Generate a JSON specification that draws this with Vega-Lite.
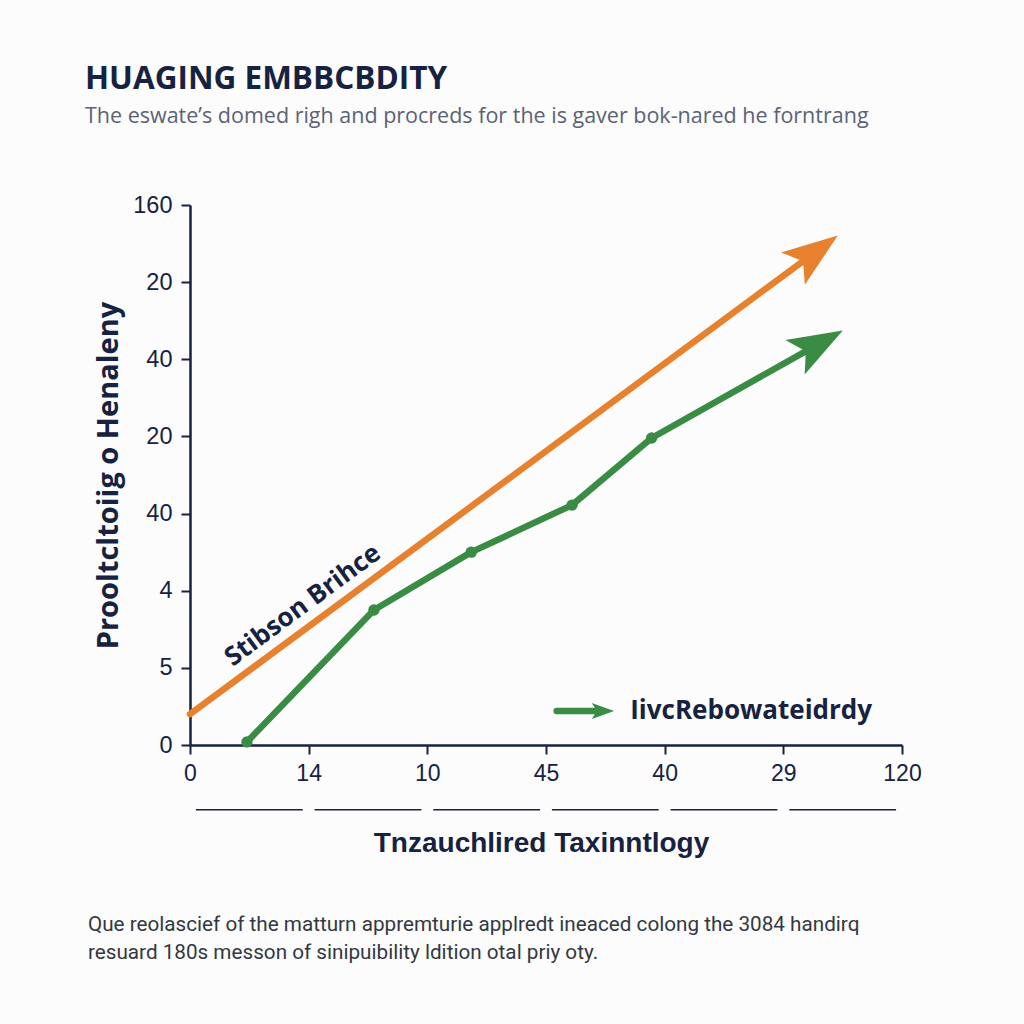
{
  "$schema": "https://vega.github.io/schema/vega-lite/v6.json",
  "width": 712,
  "height": 540,
  "autosize": {"type": "none"},
  "padding": {"left": 190, "top": 205, "right": 122, "bottom": 279},
  "background": "#fcfcfd",
  "title": {
    "text": "HUAGING EMBBCBDITY",
    "subtitle": "The eswate’s domed righ and procreds for the is gaver bok-nared he forntrang",
    "anchor": "start",
    "frame": "group",
    "dx": -105,
    "offset": 66,
    "font": "Open Sans",
    "fontSize": 31.5,
    "fontWeight": "bold",
    "color": "#16223f",
    "subtitleFont": "Open Sans",
    "subtitleFontSize": 21.5,
    "subtitleColor": "#5b6275",
    "subtitlePadding": 10
  },
  "config": {"view": {"stroke": null}},
  "datasets": {
    "series": [
      {"s": "orange", "x": 0, "y": 0.40},
      {"s": "orange", "x": 5.27, "y": 6.39},
      {"s": "green", "x": 0.48, "y": 0.04},
      {"s": "green", "x": 1.55, "y": 1.75},
      {"s": "green", "x": 2.37, "y": 2.50},
      {"s": "green", "x": 3.22, "y": 3.11},
      {"s": "green", "x": 3.89, "y": 3.98},
      {"s": "green", "x": 5.30, "y": 5.20},
      {"s": "legend", "x": 3.09, "y": 0.44},
      {"s": "legend", "x": 3.46, "y": 0.44}
    ],
    "markers": [
      {"x": 0.48, "y": 0.04},
      {"x": 1.55, "y": 1.75},
      {"x": 2.37, "y": 2.50},
      {"x": 3.22, "y": 3.11},
      {"x": 3.89, "y": 3.98}
    ],
    "heads": [
      {"s": "orange", "x": 5.27, "y": 6.39, "a": -36.4, "sz": 3100},
      {"s": "green", "x": 5.30, "y": 5.20, "a": -29.3, "sz": 3000},
      {"s": "legend", "x": 3.48, "y": 0.44, "a": 0, "sz": 500}
    ],
    "brackets": [
      {"x1": 0.05, "x2": 0.95},
      {"x1": 1.05, "x2": 1.95},
      {"x1": 2.05, "x2": 2.95},
      {"x1": 3.05, "x2": 3.95},
      {"x1": 4.05, "x2": 4.95},
      {"x1": 5.05, "x2": 5.95}
    ],
    "note1": [{"t": "Stibson Brihce", "x": 0.95, "y": 1.81}],
    "note2": [{"t": "IivcRebowateidrdy", "x": 3.71, "y": 0.44}],
    "footer": [
      {"t": "Que reolascief of the matturn appremturie applredt ineaced colong the 3084 handirq", "x": -0.86, "y": -2.33},
      {"t": "resuard 180s messon of sinipuibility ldition otal priy oty.", "x": -0.86, "y": -2.69}
    ]
  },
  "layer": [
    {
      "data": {"name": "brackets"},
      "mark": {"type": "rule", "color": "#16223f", "strokeWidth": 1.5},
      "encoding": {
        "x": {"field": "x1", "type": "quantitative", "scale": {"domain": [0, 6]}},
        "x2": {"field": "x2"},
        "y": {"datum": -0.84, "type": "quantitative", "scale": {"domain": [0, 7]}}
      }
    },
    {
      "data": {"name": "series"},
      "mark": {"type": "line", "strokeWidth": 6.5, "strokeCap": "round", "strokeJoin": "round"},
      "encoding": {
        "x": {
          "field": "x", "type": "quantitative",
          "scale": {"domain": [0, 6], "nice": false},
          "axis": {
            "values": [0, 1, 2, 3, 4, 5, 6],
            "labelExpr": "['0','14','10','45','40','29','120'][datum.value]",
            "grid": false,
            "domainColor": "#16223f", "domainWidth": 2.5,
            "tickColor": "#16223f", "tickWidth": 2, "tickSize": 9,
            "labelColor": "#16223f", "labelFont": "Liberation Sans", "labelFontSize": 23,
            "labelPadding": 8, "labelFlush": false,
            "title": "Tnzauchlired Taxinntlogy",
            "titleFont": "Liberation Sans", "titleFontSize": 28, "titleFontWeight": "bold",
            "titleColor": "#16223f", "titleBaseline": "alphabetic", "titleY": 106, "titleX": 351
          }
        },
        "y": {
          "field": "y", "type": "quantitative",
          "scale": {"domain": [0, 7], "nice": false},
          "axis": {
            "values": [0, 1, 2, 3, 4, 5, 6, 7],
            "labelExpr": "['0','5','4','40','20','40','20','160'][datum.value]",
            "grid": false,
            "domainColor": "#16223f", "domainWidth": 2.5,
            "tickColor": "#16223f", "tickWidth": 2, "tickSize": 9,
            "labelColor": "#16223f", "labelFont": "Liberation Sans", "labelFontSize": 23.5,
            "labelPadding": 9,
            "title": "Prooltcltoiig o Henaleny",
            "titleFont": "Open Sans", "titleFontSize": 29, "titleFontWeight": "bold",
            "titleColor": "#16223f", "titleBaseline": "middle", "titleX": -82, "titleY": 270
          }
        },
        "color": {
          "field": "s", "type": "nominal", "legend": null,
          "scale": {"domain": ["orange", "green", "legend"], "range": ["#e8812e", "#3a8c44", "#3a8c44"]}
        },
        "detail": {"field": "s"}
      }
    },
    {
      "data": {"name": "markers"},
      "mark": {"type": "point", "filled": true, "size": 130, "color": "#3a8c44", "opacity": 1},
      "encoding": {
        "x": {"field": "x", "type": "quantitative"},
        "y": {"field": "y", "type": "quantitative"}
      }
    },
    {
      "data": {"name": "heads"},
      "mark": {"type": "point", "filled": true, "opacity": 1, "shape": "M1,0L-1,-0.72L-0.55,0L-1,0.72Z"},
      "encoding": {
        "x": {"field": "x", "type": "quantitative"},
        "y": {"field": "y", "type": "quantitative"},
        "angle": {"field": "a", "type": "quantitative", "scale": null},
        "size": {"field": "sz", "type": "quantitative", "scale": null},
        "color": {"field": "s", "type": "nominal", "legend": null}
      }
    },
    {
      "data": {"name": "note1"},
      "mark": {"type": "text", "font": "Open Sans", "fontSize": 26, "fontWeight": "bold", "color": "#16223f", "align": "center", "baseline": "middle", "angle": -36.4},
      "encoding": {
        "x": {"field": "x", "type": "quantitative"},
        "y": {"field": "y", "type": "quantitative"},
        "text": {"field": "t"}
      }
    },
    {
      "data": {"name": "note2"},
      "mark": {"type": "text", "font": "Open Sans", "fontSize": 26, "fontWeight": "bold", "color": "#16223f", "align": "left", "baseline": "middle"},
      "encoding": {
        "x": {"field": "x", "type": "quantitative"},
        "y": {"field": "y", "type": "quantitative"},
        "text": {"field": "t"}
      }
    },
    {
      "data": {"name": "footer"},
      "mark": {"type": "text", "font": "Roboto", "fontSize": 20.7, "align": "left", "baseline": "middle", "color": "#333842"},
      "encoding": {
        "x": {"field": "x", "type": "quantitative"},
        "y": {"field": "y", "type": "quantitative"},
        "text": {"field": "t"}
      }
    }
  ]
}
